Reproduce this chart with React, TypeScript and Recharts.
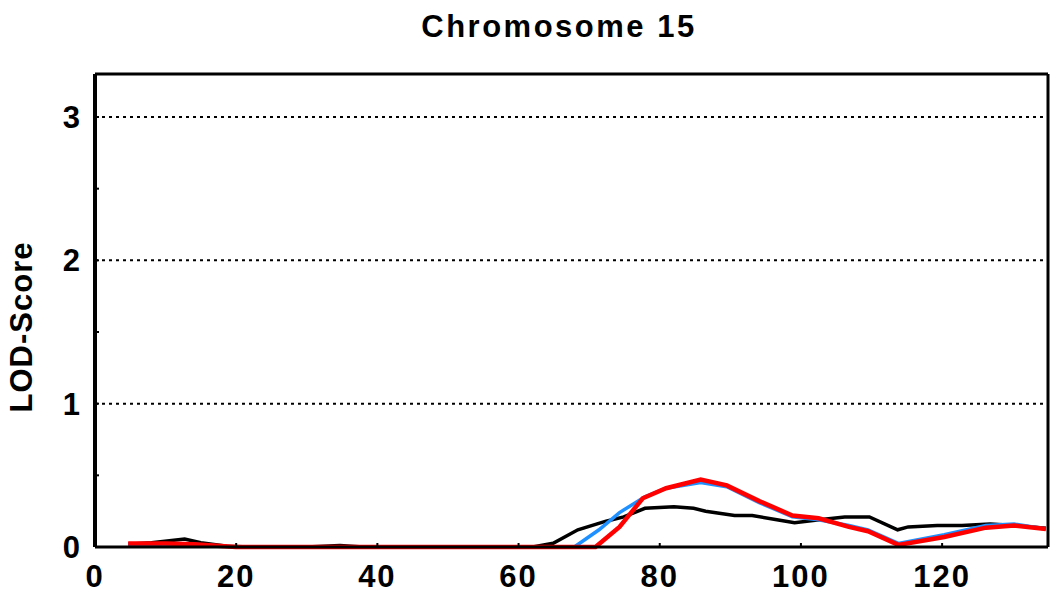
import { LineChart, Line, XAxis, YAxis, ReferenceLine } from 'recharts'

// chromosome position (cM) and LOD score for each curve
const blackCm = [4.7, 8, 12.7, 15, 18.7, 22, 30, 34.7, 38, 50, 62, 64.9, 68.4, 72.4, 74.9, 77.9, 82, 84.8, 86.5, 90.6, 93.1, 96.6, 99.1, 102.6, 106.2, 109.7, 113.7, 115.2, 119.3, 122.8, 126.8, 130.4, 134.7]
const blackLod = [0.02, 0.03, 0.055, 0.03, 0.005, 0, 0, 0.01, 0, 0, 0, 0.026, 0.12, 0.18, 0.21, 0.27, 0.28, 0.27, 0.25, 0.22, 0.22, 0.19, 0.17, 0.19, 0.21, 0.21, 0.12, 0.14, 0.15, 0.15, 0.16, 0.15, 0.13]

const blueCm = [4.7, 10, 14, 20, 67.9, 71.4, 74.3, 77.9, 80.9, 85.8, 89.5, 94.1, 98.8, 102.5, 106.8, 109.5, 113.8, 120.3, 126.2, 130.2, 134.7]
const blueLod = [0.02, 0.02, 0.02, 0, 0, 0.12, 0.24, 0.35, 0.41, 0.45, 0.42, 0.31, 0.21, 0.19, 0.15, 0.12, 0.025, 0.085, 0.15, 0.16, 0.125]

const redCm = [4.7, 10, 14, 20, 70.9, 74.3, 77.6, 80.9, 85.8, 89.5, 94.1, 98.8, 102.5, 106.8, 109.5, 113.8, 120.3, 126.2, 130.2, 134.7]
const redLod = [0.025, 0.025, 0.02, 0, 0, 0.14, 0.34, 0.41, 0.47, 0.43, 0.32, 0.22, 0.2, 0.14, 0.11, 0.015, 0.07, 0.135, 0.15, 0.125]

const xTicks = [0, 20, 40, 60, 80, 100, 120]
const yTicks = [0, 0.5, 1, 1.5, 2, 2.5, 3]
const gridLevels = [1, 2, 3]

const toRows = (cm: number[], lod: number[]) => cm.map((c, i) => ({ cm: c, lod: lod[i] }))
const blackData = toRows(blackCm, blackLod)
const blueData = toRows(blueCm, blueLod)
const redData = toRows(redCm, redLod)

const font = '"Liberation Sans", Arial, sans-serif'

const BottomTick = ({ x, y, payload }: any) => (
  <g>
    <line x1={x} x2={x} y1={y} y2={y - 4} stroke="#000" strokeWidth={2} />
    <text x={x} y={y + 40} textAnchor="middle" fontFamily={font} fontWeight="bold" fontSize={31} letterSpacing={2} fill="#000">
      {payload.value}
    </text>
  </g>
)

const TopTick = ({ x, y }: any) => (
  <line x1={x} x2={x} y1={y} y2={y + 4} stroke="#000" strokeWidth={2} />
)

const LeftTick = ({ x, y, payload }: any) => (
  <g>
    <line x1={x} x2={x + 4} y1={y} y2={y} stroke="#000" strokeWidth={2} />
    {Number.isInteger(payload.value) && (
      <text x={80} y={y} dy="0.36em" textAnchor="end" fontFamily={font} fontWeight="bold" fontSize={31} fill="#000">
        {payload.value}
      </text>
    )}
  </g>
)

const RightTick = ({ x, y }: any) => (
  <line x1={x} x2={x - 4} y1={y} y2={y} stroke="#000" strokeWidth={2} />
)

export default function App() {
  return (
    <div style={{ position: 'absolute', left: 0, top: 0, width: 1058, height: 596, background: '#fff' }}>
      <div
        style={{
          position: 'absolute',
          left: 0,
          width: 1118,
          top: 9,
          textAlign: 'center',
          fontFamily: font,
          fontWeight: 'bold',
          fontSize: 31,
          letterSpacing: 2.5,
        }}
      >
        Chromosome 15
      </div>
      <div
        style={{
          position: 'absolute',
          left: 22,
          top: 327,
          transform: 'translate(-50%, -50%) rotate(-90deg)',
          fontFamily: font,
          fontWeight: 'bold',
          fontSize: 31,
          letterSpacing: 1,
          whiteSpace: 'nowrap',
        }}
      >
        LOD-Score
      </div>
      <LineChart width={1058} height={596} margin={{ top: 73, right: 0, left: 0, bottom: 0 }}>
        <XAxis
          dataKey="cm"
          type="number"
          domain={[0, 135]}
          ticks={xTicks}
          allowDataOverflow
          height={49}
          tickSize={0}
          tickMargin={0}
          tickLine={false}
          tick={<BottomTick />}
          axisLine={{ stroke: '#000', strokeWidth: 3 }}
        />
        <XAxis
          xAxisId="top"
          orientation="top"
          type="number"
          domain={[0, 135]}
          ticks={xTicks}
          height={1}
          tickSize={0}
          tickMargin={0}
          tickLine={false}
          tick={<TopTick />}
          axisLine={{ stroke: '#000', strokeWidth: 2 }}
        />
        <YAxis
          type="number"
          domain={[0, 3.3]}
          ticks={yTicks}
          width={95}
          tickSize={0}
          tickMargin={0}
          tickLine={false}
          tick={<LeftTick />}
          axisLine={{ stroke: '#000', strokeWidth: 4 }}
        />
        <YAxis
          yAxisId="right"
          orientation="right"
          type="number"
          domain={[0, 3.3]}
          ticks={yTicks}
          width={10}
          tickSize={0}
          tickMargin={0}
          tickLine={false}
          tick={<RightTick />}
          axisLine={{ stroke: '#000', strokeWidth: 3 }}
        />
        {gridLevels.map((v) => (
          <ReferenceLine key={v} y={v} stroke="#000" strokeWidth={2} strokeDasharray="3 4" />
        ))}
        <ReferenceLine y={3.3} stroke="#000" strokeWidth={3} />
        <Line data={blackData} dataKey="lod" type="linear" stroke="#000000" strokeWidth={3.5} dot={false} isAnimationActive={false} />
        <Line data={blueData} dataKey="lod" type="linear" stroke="#1e90ff" strokeWidth={3.5} dot={false} isAnimationActive={false} />
        <Line data={redData} dataKey="lod" type="linear" stroke="#ff0000" strokeWidth={4.5} dot={false} isAnimationActive={false} />
      </LineChart>
    </div>
  )
}
